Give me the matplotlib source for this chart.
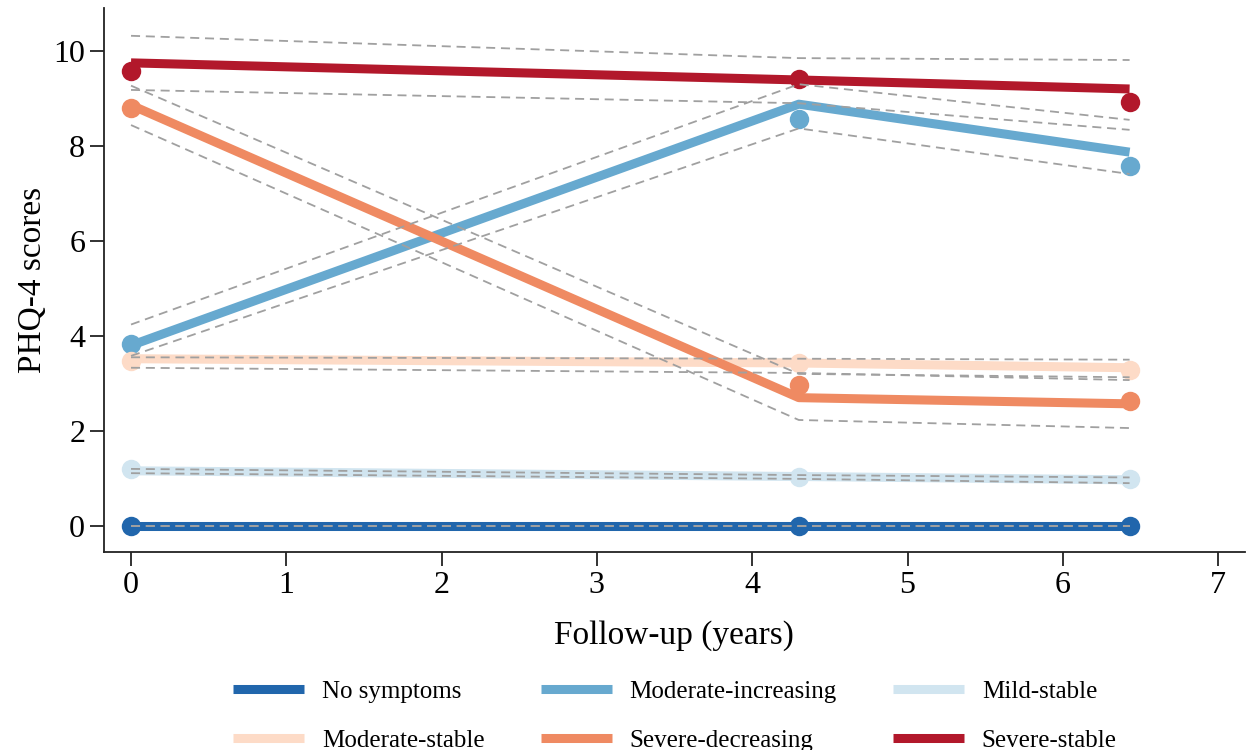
import matplotlib
matplotlib.use("Agg")
import matplotlib.pyplot as plt

plt.rcParams["font.family"] = ["Liberation Serif", "DejaVu Serif"]

# follow-up waves (years)
years = [0, 4.3, 6.43]

groups = ["No symptoms", "Moderate-increasing", "Mild-stable",
          "Moderate-stable", "Severe-decreasing", "Severe-stable"]
colors = ["#2166ac", "#67a9cf", "#d1e5f0", "#fddbc7", "#ef8a62", "#b2182b"]

# observed means
observed = {
    "No symptoms": [0.0, 0.0, 0.0],
    "Moderate-increasing": [3.83, 8.57, 7.58],
    "Mild-stable": [1.19, 1.02, 0.99],
    "Moderate-stable": [3.47, 3.42, 3.29],
    "Severe-decreasing": [8.81, 2.97, 2.63],
    "Severe-stable": [9.58, 9.41, 8.93],
}
# fitted trajectories
fitted = {
    "No symptoms": [0.0, 0.0, 0.0],
    "Moderate-increasing": [3.8, 8.88, 7.87],
    "Mild-stable": [1.16, 1.04, 0.97],
    "Moderate-stable": [3.52, 3.43, 3.33],
    "Severe-decreasing": [8.86, 2.7, 2.57],
    "Severe-stable": [9.75, 9.39, 9.2],
}
# confidence bands (lower, upper)
ci_low = {
    "No symptoms": [0.0, 0.0, 0.0],
    "Moderate-increasing": [3.58, 8.37, 7.41],
    "Mild-stable": [1.11, 0.99, 0.9],
    "Moderate-stable": [3.33, 3.22, 3.07],
    "Severe-decreasing": [8.44, 2.23, 2.06],
    "Severe-stable": [9.18, 8.9, 8.34],
}
ci_high = {
    "No symptoms": [0.0, 0.0, 0.0],
    "Moderate-increasing": [4.24, 9.3, 8.55],
    "Mild-stable": [1.2, 1.07, 1.02],
    "Moderate-stable": [3.55, 3.52, 3.5],
    "Severe-decreasing": [9.27, 3.2, 3.13],
    "Severe-stable": [10.32, 9.85, 9.81],
}

fig = plt.figure(figsize=(12.47, 7.5), dpi=100)
ax = fig.add_axes([0.0834, 0.264, 0.9146, 0.725])

handles = {}
for g, c in zip(groups, colors):
    ln, = ax.plot(years, fitted[g], color=c, lw=6.5, solid_capstyle="butt", zorder=2)
    ax.plot(years, observed[g], "o", color=c, ms=14, mec="none", zorder=3)
    handles[g] = ln

for g in groups:
    for band in (ci_low[g], ci_high[g]):
        ax.plot(years, band, color="#a0a0a0", lw=1.3, ls=(0, (5, 3.2)), zorder=4)

ax.set_xlim(-0.174, 7.17)
ax.set_ylim(-0.55, 10.9)
ax.set_xticks(range(8))
ax.set_yticks([0, 2, 4, 6, 8, 10])
ax.tick_params(labelsize=23, length=10, width=1.3, colors="#222222", labelcolor="black")
ax.spines["top"].set_visible(False)
ax.spines["right"].set_visible(False)
for s in ("left", "bottom"):
    ax.spines[s].set_linewidth(1.3)
    ax.spines[s].set_color("#222222")

ax.set_xlabel("Follow-up (years)", fontsize=24, labelpad=15)
ax.set_ylabel("PHQ-4 scores", fontsize=24, labelpad=4)

order = ["No symptoms", "Moderate-stable", "Moderate-increasing",
         "Severe-decreasing", "Mild-stable", "Severe-stable"]
fig.legend([handles[g] for g in order], order, ncol=3, frameon=False,
           loc="upper left", bbox_to_anchor=(0.179, 0.106), fontsize=18,
           handlelength=2.85, columnspacing=2.25, labelspacing=1.05,
           handletextpad=0.7, borderaxespad=0)

fig.savefig("out.png", dpi=100)
